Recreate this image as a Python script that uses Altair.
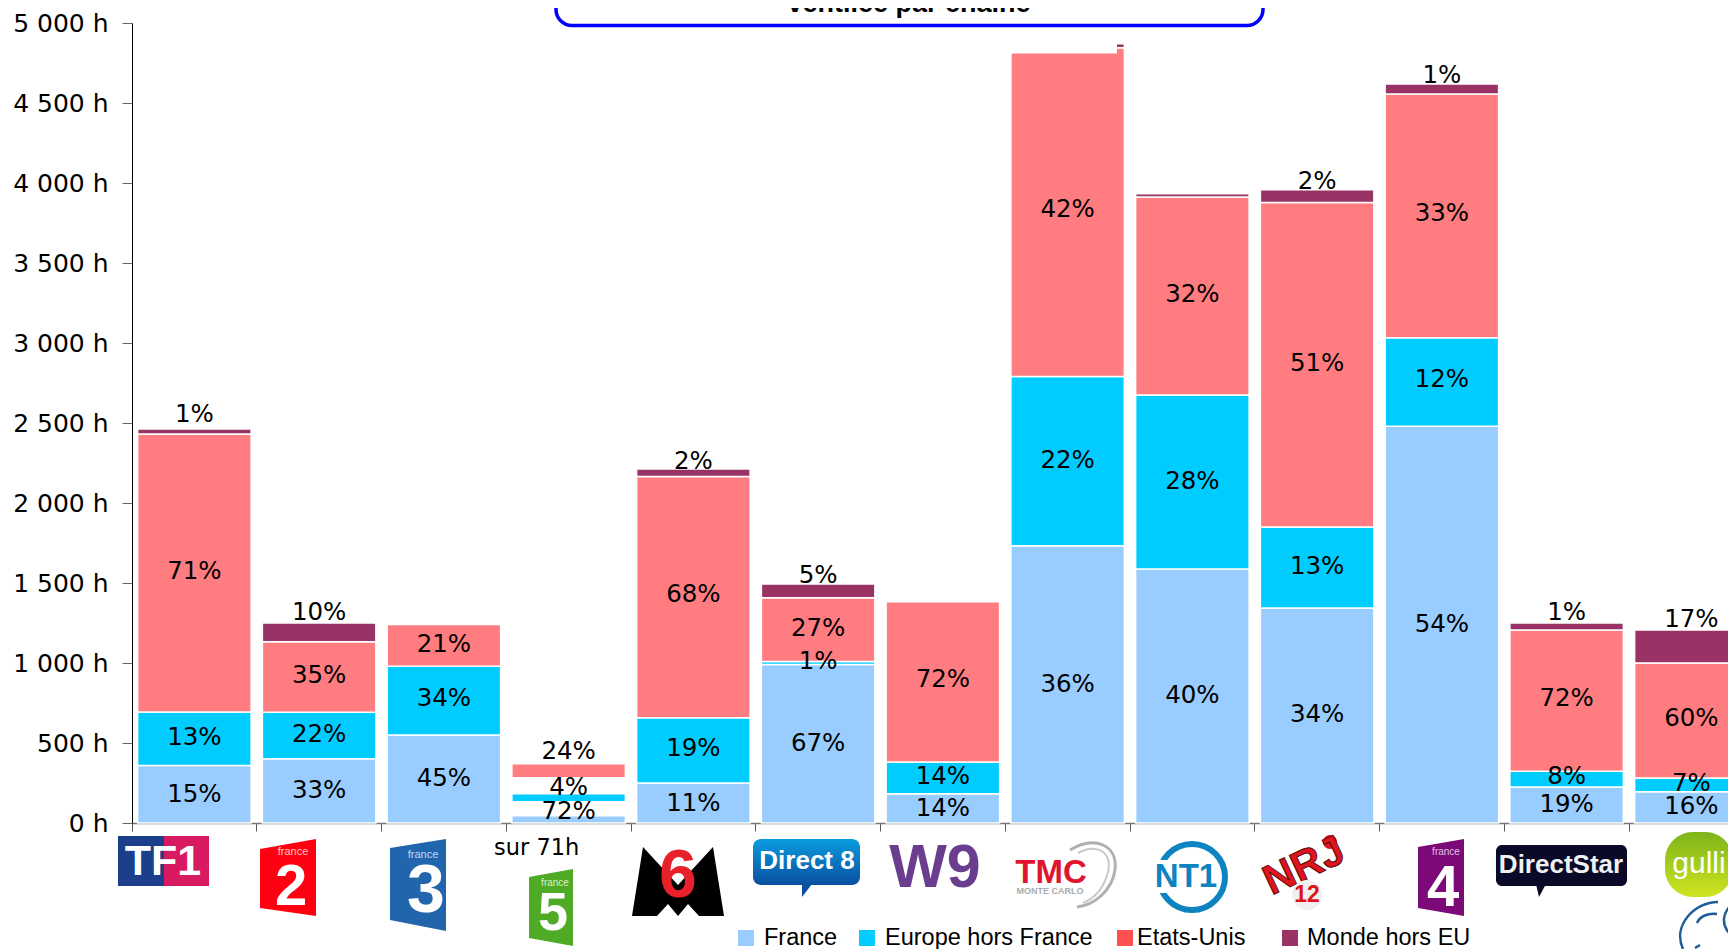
import altair as alt
import pandas as pd

channels = ["TF1", "France 2", "France 3", "France 5", "M6", "Direct 8", "W9", "TMC",
            "NT1", "NRJ 12", "France 4", "Direct Star", "Gulli"]
series = ["France", "Europe hors France", "Etats-Unis", "Monde hors EU"]
bar_colors = ["#99CCFF", "#00CCFF", "#FF7C80", "#993366"]
legend_colors = ["#99CCFF", "#00CCFF", "#FF5050", "#993366"]

france = [360, 402, 550, 46, 250, 990, 183, 1733, 1587, 1344, 2480, 225, 196]
europe = [334, 290, 429, 50, 408, 20, 198, 1057, 1088, 506, 553, 98, 85]
etats_unis = [1737, 441, 261, 88, 1507, 398, 1002, 2055, 1237, 2028, 1523, 883, 719]
monde = [31, 117, 0, 0, 47, 86, 0, 25, 21, 80, 63, 44, 206]
# France 5 floats with white gaps in the reference
gap_low = [0, 0, 0, 87, 0, 0, 0, 0, 0, 0, 0, 0, 0]
gap_mid = [0, 0, 0, 100, 0, 0, 0, 0, 0, 0, 0, 0, 0]

pct_france = ["15%", "33%", "45%", "72%", "11%", "67%", "14%", "36%", "40%", "34%", "54%", "19%", "16%"]
pct_europe = ["13%", "22%", "34%", "4%", "19%", "1%", "14%", "22%", "28%", "13%", "12%", "8%", "7%"]
pct_us = ["71%", "35%", "21%", "24%", "68%", "27%", "72%", "42%", "32%", "51%", "33%", "72%", "60%"]
pct_monde = ["1%", "10%", "", "", "2%", "5%", "", "", "", "2%", "1%", "1%", "17%"]
y_france = [183, 208, 287, 77, 129, 504, 94, 871, 802, 685, 1246, 121, 110]
y_europe = [542, 558, 783, 229, 473, 1015, 298, 2273, 2142, 1608, 2777, 296, 254]
y_us = [1579, 927, 1121, 454, 1435, 1223, 904, 3842, 3310, 2880, 3815, 783, 658]
y_monde = [2562, 1321, 0, 0, 2265, 1552, 0, 0, 0, 4015, 4680, 1321, 1279]

OX, OY = 132, 23
STEP = 124.75
W, H = 1596, 800

seg_rows, lab_rows = [], []
for i, c in enumerate(channels):
    base = 0
    parts = [france[i], gap_low[i], europe[i], gap_mid[i], etats_unis[i], monde[i]]
    names = [series[0], None, series[1], None, series[2], series[3]]
    for v, n in zip(parts, names):
        if n and v > 0:
            seg_rows.append({"c": c, "s": n, "y0": base, "y1": base + v})
        base += v
    for t, y in zip([pct_france[i], pct_europe[i], pct_us[i], pct_monde[i]],
                    [y_france[i], y_europe[i], y_us[i], y_monde[i]]):
        if t:
            lab_rows.append({"c": c, "t": t, "y": y})
seg = pd.DataFrame(seg_rows)
lab = pd.DataFrame(lab_rows)
one = pd.DataFrame({"k": [0]})

xs = alt.Scale(domain=channels, range=[0, STEP * len(channels)], paddingInner=0, paddingOuter=0)
ys = alt.Scale(domain=[0, 5000], nice=False)

bars = alt.Chart(seg).mark_bar(width=113.5, stroke="white", strokeWidth=1.5).encode(
    x=alt.X("c:N", scale=xs, sort=channels, title=None,
            axis=alt.Axis(labels=False, ticks=True, tickSize=8, bandPosition=0, tickColor="#555555",
                          domainColor="#777777", domainWidth=1.5, grid=False)),
    y=alt.Y("y0:Q", scale=ys, title=None,
            axis=alt.Axis(values=list(range(0, 5001, 500)), tickSize=10, tickColor="#666666",
                          domainColor="#000000", labelPadding=14, labelFont="DejaVu Sans", labelFontSize=25,
                          labelColor="#000000", grid=False,
                          labelExpr="replace(format(datum.value, ','), ',', ' ') + ' h'")),
    y2="y1:Q",
    color=alt.Color("s:N", scale=alt.Scale(domain=series, range=bar_colors), legend=None),
)

labels = alt.Chart(lab).mark_text(font="DejaVu Sans", fontSize=24.5, color="#000000", baseline="middle",
                                  dy=1.5).encode(
    x=alt.X("c:N", scale=xs, sort=channels),
    y=alt.Y("y:Q", scale=ys),
    text="t:N",
)


def pt(x, y):
    return f"{x - OX:.1f},{y - OY:.1f}"


def poly(points, color):
    path = "M" + " L".join(pt(x, y) for x, y in points) + " Z"
    return alt.Chart(one).mark_point(shape=path, size=4, filled=True, fill=color, opacity=1, strokeWidth=0).encode(
        x=alt.value(0), y=alt.value(0))


def ell(cx, cy, rx, ry, fill=None, stroke=None, sw=1):
    path = (f"M{pt(cx - rx, cy)} A{rx},{ry} 0 1 0 {pt(cx + rx, cy)} "
            f"A{rx},{ry} 0 1 0 {pt(cx - rx, cy)} Z")
    if fill:
        m = alt.Chart(one).mark_point(shape=path, size=4, filled=True, fill=fill, opacity=1, strokeWidth=0)
    else:
        m = alt.Chart(one).mark_point(shape=path, size=4, filled=False, stroke=stroke, strokeWidth=sw, opacity=1)
    return m.encode(x=alt.value(0), y=alt.value(0))


def curve(d, color, sw):
    return alt.Chart(one).mark_point(shape=d, size=4, filled=False, stroke=color, strokeWidth=sw, opacity=1).encode(
        x=alt.value(0), y=alt.value(0))


def txt(s, x, y, size, color="#000000", font="Liberation Sans", bold=False, angle=0, align="center",
        stroke=None):
    kw = {}
    if angle:
        kw["angle"] = angle
    if stroke:
        kw.update(stroke=stroke, strokeWidth=1)
    return alt.Chart(one).mark_text(text=s, font=font, fontSize=size, color=color, align=align, baseline="middle",
                                    fontWeight="bold" if bold else "normal", **kw).encode(
        x=alt.value(x - OX), y=alt.value(y - OY))


def box(x0, y0, x1, y1, color, radius=0, stroke=None, sw=0):
    kw = {"cornerRadius": radius} if radius else {}
    if stroke:
        kw.update(stroke=stroke, strokeWidth=sw)
    return alt.Chart(one).mark_rect(color=color, opacity=1, **kw).encode(
        x=alt.value(x0 - OX), x2=alt.value(x1 - OX), y=alt.value(y0 - OY), y2=alt.value(y1 - OY))


def vgrad(c0, c1, x2=0):
    return alt.LinearGradient(gradient="linear", x1=0, y1=0, x2=x2, y2=1,
                              stops=[alt.GradientStop(color=c0, offset=0), alt.GradientStop(color=c1, offset=1)])


extras = [
    # white patch hiding the top of the TMC bar, as in the reference
    box(1010, 38, 1117, 53.5, "#FFFFFF"),
    # title box cut by the page's top edge
    box(556, -60, 1263, 25.5, "#FFFFFF", radius=16, stroke="#0000FF", sw=3.5),
    txt("ventilée par chaîne", 909, 4, 27, bold=True),
    # TF1
    box(118, 836, 164, 886, "#1B3F8B"), box(164, 836, 209, 886, "#D81B60"),
    txt("TF1", 163, 862, 43, "#FFFFFF", bold=True),
    # France 2
    poly([(260, 849), (316, 839), (316, 916), (260, 908)], "#FF0010"),
    txt("france", 293, 852, 11, "#FFC0C0"), txt("2", 291, 888, 58, "#FFFFFF", bold=True),
    # France 3
    poly([(390, 848), (446, 839), (446, 931), (390, 920)], "#2166AC"),
    txt("france", 423, 855, 11, "#C0D8F0"), txt("3", 426, 892, 68, "#FFFFFF", bold=True),
    # sur 71h + France 5
    txt("sur 71h", 494, 848, 22.5, font="DejaVu Sans", align="left"),
    poly([(529, 877), (573, 869), (573, 946), (529, 938)], "#4FAA26"),
    txt("france", 555, 883, 10, "#D8F0C8"), txt("5", 553, 914, 54, "#FFFFFF", bold=True),
    # M6
    poly([(632, 916), (643, 847), (678, 885), (713, 847), (724, 916), (699, 916), (688, 904),
          (678, 916), (668, 904), (657, 916)], "#000000"),
    txt("6", 678, 877, 68, "#E8202A", bold=True),
    # Direct 8
    poly([(802, 884), (812, 884), (802, 897)], "#0A4FA0"),
    box(753, 839, 860, 885, vgrad("#0A9BDF", "#0A4FA0"), radius=8),
    txt("Direct 8", 807, 861, 26, "#FFFFFF", bold=True),
    # W9
    txt("W9", 935, 869, 61, "#6A3D8F", bold=True),
    # TMC
    curve(f"M{pt(1070, 850)} C{pt(1095, 835)} {pt(1118, 845)} {pt(1115, 870)} "
          f"C{pt(1112, 890)} {pt(1095, 905)} {pt(1077, 907)}", "#B0B0B0", 3),
    curve(f"M{pt(1078, 853)} C{pt(1098, 843)} {pt(1112, 852)} {pt(1108, 872)} "
          f"C{pt(1104, 888)} {pt(1095, 898)} {pt(1083, 903)}", "#C8C8C8", 2),
    txt("TMC", 1051, 873, 33, "#E0142D", bold=True),
    txt("MONTE CARLO", 1050, 891, 9, "#AAAAAA", bold=True),
    # NT1
    ell(1192, 877, 33, 33, stroke="#0D84BF", sw=6),
    box(1150, 860, 1180, 893, "#FFFFFF"),
    txt("NT1", 1186, 877, 33, "#0D84BF", bold=True),
    # NRJ 12
    ell(1330, 842, 7, 7, fill="#E0141C"),
    txt("NRJ", 1304, 866, 42, "#E0141C", bold=True, angle=335, stroke="#5A0A0A"),
    ell(1307, 895, 15, 15, fill="#F0F0F0"),
    txt("12", 1307, 895, 23, "#E0141C", bold=True),
    # France 4
    poly([(1418, 847), (1464, 839), (1464, 916), (1418, 908)], "#7B0A78"),
    txt("france", 1446, 852, 10, "#E0C0E0"), txt("4", 1443, 889, 58, "#FFFFFF", bold=True),
    # Direct Star
    poly([(1536, 884), (1546, 884), (1539, 897)], "#0A0A28"),
    box(1496, 845, 1627, 886, "#0A0A28", radius=6),
    txt("DirectStar", 1561, 865, 26, "#F0F0F0", bold=True),
    # Gulli
    box(1665, 832, 1733, 897, vgrad("#7DB41A", "#CFE51F"), radius=28),
    txt("gulli", 1699, 864, 30, "#FFFFFF"),
    # partly visible logo at the bottom right
    curve(f"M{pt(1718, 902)} C{pt(1695, 902)} {pt(1672, 925)} {pt(1683, 949)}", "#1F5C99", 2.5),
    curve(f"M{pt(1697, 923)} C{pt(1700, 916)} {pt(1708, 913)} {pt(1717, 914)}", "#1F5C99", 2.5),
    curve(f"M{pt(1736, 903)} C{pt(1722, 908)} {pt(1718, 928)} {pt(1736, 938)}", "#1F5C99", 2.5),
    curve(f"M{pt(1695, 948)} L{pt(1700, 945)}", "#1F5C99", 2.5),
]

legend_x = [738, 859, 1117, 1282]
legend_text_x = [764, 885, 1137, 1307]
legend = []
for name, col, sx, tx in zip(series, legend_colors, legend_x, legend_text_x):
    legend.append(box(sx, 930, sx + 16, 946, col))
    legend.append(txt(name, tx, 938, 23.5, align="left"))

chart = alt.layer(bars, labels, *extras, *legend).properties(
    width=W, height=H, autosize="none",
    padding={"left": OX - 8, "top": OY - 8, "right": 0, "bottom": 941 - (OY - 8) - H},
    background="white",
).configure_view(stroke=None).resolve_scale(x="shared", y="shared")

chart.save("out.html", embed_options={"renderer": "svg", "actions": False})
